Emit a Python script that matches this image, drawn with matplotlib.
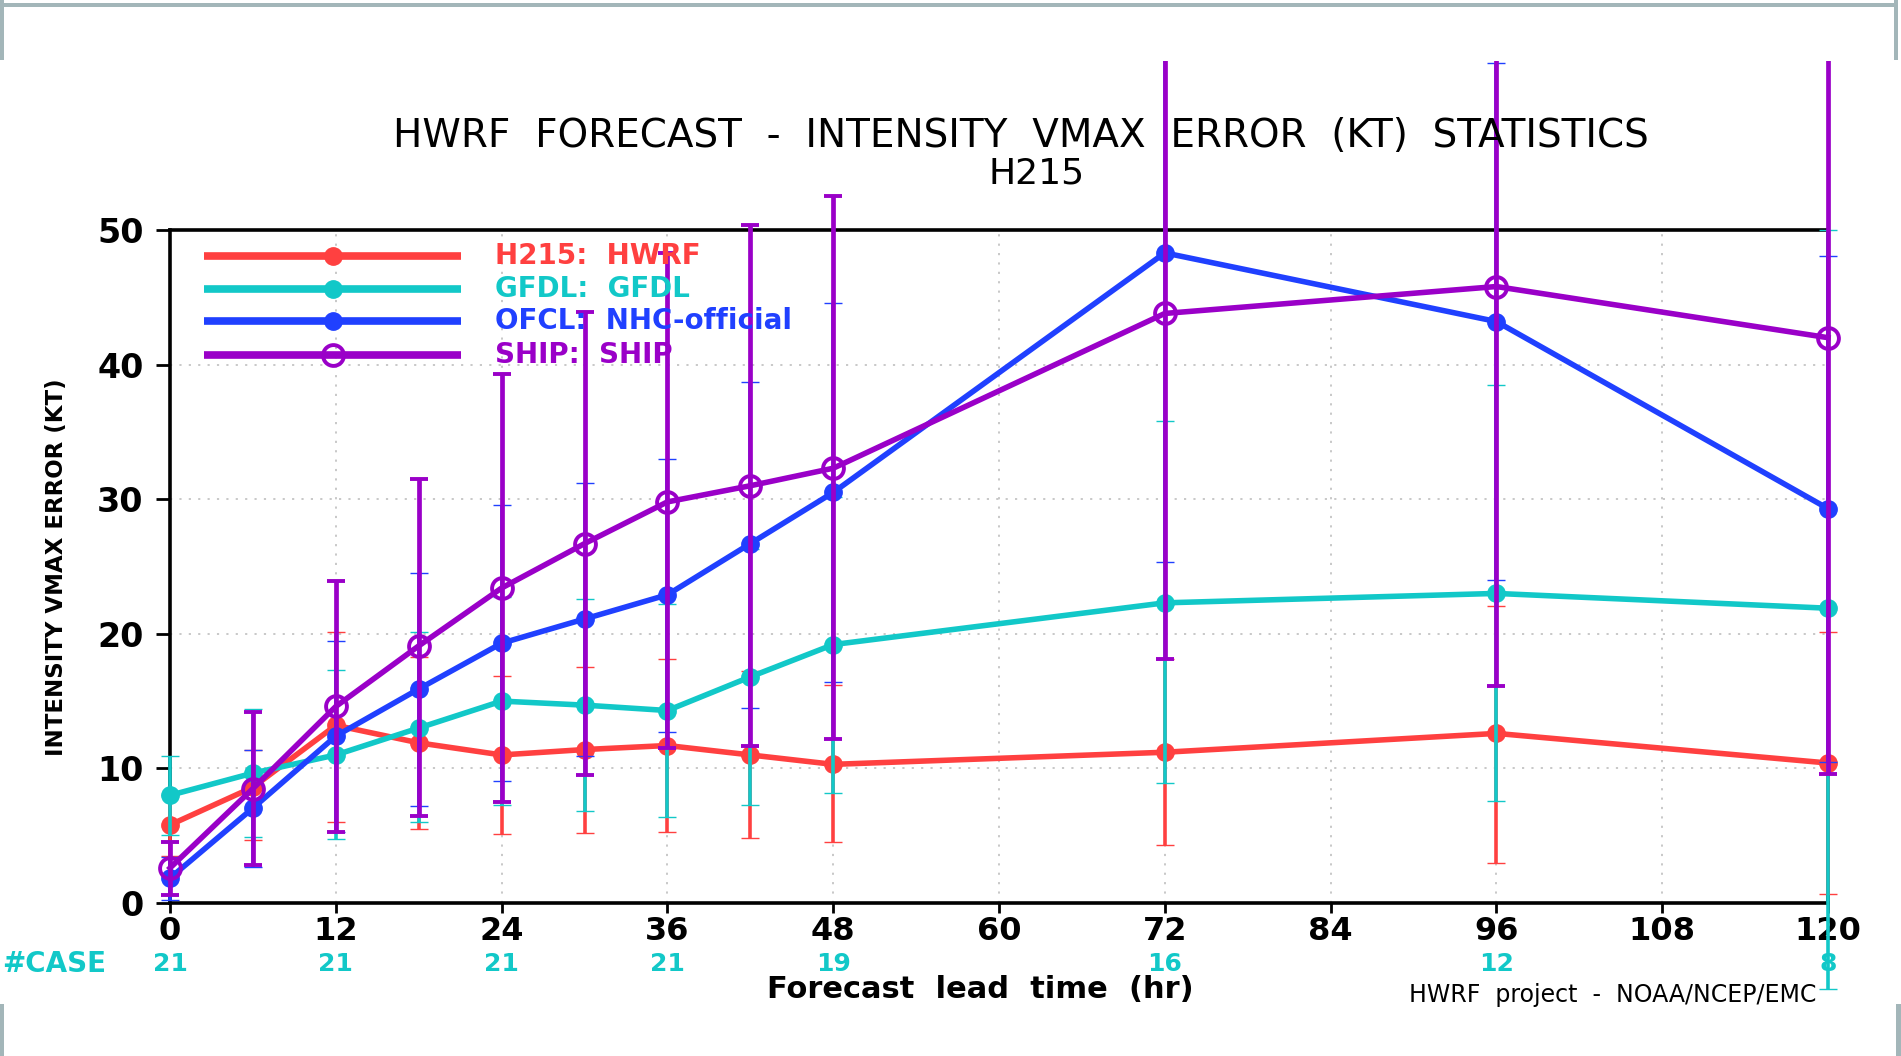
import numpy as np
import matplotlib.pyplot as plt
from matplotlib.transforms import Bbox, TransformedBbox
from matplotlib.patches import Rectangle

# forecast lead times (hr)
lead = [0, 6, 12, 18, 24, 30, 36, 42, 48, 72, 96, 120]

# mean error and error-bar ends
hwrf = [5.8, 8.6, 13.2, 11.9, 11.0, 11.4, 11.7, 11.0, 10.3, 11.2, 12.6, 10.4]
hwrf_lo = [3.5, 4.65, 6.0, 5.5, 5.1, 5.2, 5.3, 4.8, 4.5, 4.3, 2.95, 0.7]
hwrf_hi = [8.0, 11.4, 20.1, 18.3, 16.9, 17.5, 18.1, 17.2, 16.2, 18.15, 22.1, 20.1]

gfdl = [8.0, 9.65, 11.0, 13.0, 15.0, 14.7, 14.3, 16.8, 19.2, 22.3, 23.0, 21.9]
gfdl_lo = [5.05, 4.9, 4.75, 6.0, 7.3, 6.8, 6.4, 7.3, 8.2, 8.9, 7.6, -6.4]
gfdl_hi = [10.9, 14.4, 17.3, 20.1, 22.7, 22.6, 22.2, 26.3, 30.2, 35.8, 38.5, 50.0]

ofcl = [1.85, 7.05, 12.4, 15.9, 19.3, 21.1, 22.9, 26.7, 30.5, 48.3, 43.2, 29.3]
ofcl_lo = [0.2, 2.7, 5.3, 7.2, 9.1, 10.9, 12.7, 14.5, 16.4, 25.3, 24.0, 10.5]
ofcl_hi = [3.45, 11.4, 19.5, 24.5, 29.6, 31.2, 33.0, 38.7, 44.6, 71.3, 62.4, 48.1]

ship = [2.6, 8.5, 14.6, 19.1, 23.4, 26.7, 29.8, 31.0, 32.3, 43.8, 45.8, 42.0]
ship_lo = [0.6, 2.8, 5.3, 6.5, 7.5, 9.5, 11.55, 11.7, 12.2, 18.15, 16.1, 9.6]
ship_hi = [4.5, 14.2, 23.9, 31.5, 39.3, 43.9, 48.3, 50.4, 52.5, 69.5, 75.5, 74.4]

case_hours = [0, 12, 24, 36, 48, 72, 96, 120]
case_counts = [21, 21, 21, 21, 19, 16, 12, 8]

labels = ["H215:  HWRF", "GFDL:  GFDL", "OFCL:  NHC-official", "SHIP:  SHIP"]
colors = ["#ff4040", "#12c8c8", "#2040ff", "#9a00c8"]

W, H = 1901, 1056
fig = plt.figure(figsize=(W / 100, H / 100), dpi=100)
ax = fig.add_axes([170 / W, 1 - 903 / H, 1658 / W, 673 / H])

# bars run past the top of the frame and get cut near the page top
clip = TransformedBbox(Bbox.from_extents(0, 0, 1, 1 - 61 / H), fig.transFigure)

series = [(hwrf, hwrf_lo, hwrf_hi), (gfdl, gfdl_lo, gfdl_hi),
          (ofcl, ofcl_lo, ofcl_hi), (ship, ship_lo, ship_hi)]

for i, (mean, lo, hi) in enumerate(series):
    mean = np.array(mean)
    err = [mean - np.array(lo), np.array(hi) - mean]
    col = colors[i]
    if i == 3:
        mk = dict(marker="o", ms=15, mfc="none", mec=col, mew=2.8)
        elw = 3.4
    else:
        mk = dict(marker="o", ms=12.5, mfc=col, mec=col, mew=1)
        elw = 2.6
    cont = ax.errorbar(lead, mean, yerr=err, color=col, lw=4,
                       elinewidth=elw, capsize=6.5, capthick=2.6,
                       zorder=3 + i, **mk)
    line, caps, bars = cont.lines
    for a in [line, *caps, *bars]:
        a.set_clip_box(clip)

ax.set_xlim(0, 120)
ax.set_ylim(0, 50)
ax.set_xticks(range(0, 121, 12))
ax.set_yticks(range(0, 51, 10))
ax.grid(True, color="#c4c4c4", linestyle=(0, (1.2, 4)), linewidth=1.3)
ax.set_axisbelow(True)
for s in ax.spines.values():
    s.set_linewidth(2.6)
    s.set_zorder(2.5)
ax.tick_params(axis="y", direction="out", length=10, width=2, pad=9, labelsize=24)
ax.tick_params(axis="x", direction="out", length=7, width=2, pad=2, labelsize=23)
for lbl in ax.get_xticklabels() + ax.get_yticklabels():
    lbl.set_fontweight("bold")

# legend drawn by hand, GrADS style
rows = [0.9614, 0.9123, 0.8648, 0.8143]
for i, y in enumerate(rows):
    col = colors[i]
    ax.plot([0.0205, 0.1755], [y, y], transform=ax.transAxes, color=col,
            lw=5.5, clip_on=False, zorder=8, solid_capstyle="butt")
    if i == 3:
        ax.plot([0.0983], [y], transform=ax.transAxes, marker="o", ms=15,
                mfc="none", mec=col, mew=2.8, clip_on=False, zorder=8)
    else:
        ax.plot([0.0983], [y], transform=ax.transAxes, marker="o", ms=12.5,
                color=col, clip_on=False, zorder=8)
    ax.text(0.196, y, labels[i], transform=ax.transAxes, color=col,
            fontsize=20, fontweight="bold", va="center", ha="left", zorder=9)

# case counts under the x axis
ycase = (903 - 964) / 673
for h, n in zip(case_hours, case_counts):
    ax.text(h, ycase, str(n), transform=ax.get_xaxis_transform(), ha="center",
            va="center", color="#12c8c8", fontsize=18, fontweight="bold")
fig.text(2 / W, 1 - 964 / H, "#CASE", ha="left", va="center", color="#12c8c8",
         fontsize=20, fontweight="bold")

fig.text(1021 / W, 1 - 136 / H,
         "HWRF  FORECAST  -  INTENSITY  VMAX  ERROR  (KT)  STATISTICS",
         ha="center", va="center", fontsize=28)
fig.text(1037 / W, 1 - 174 / H, "H215", ha="center", va="center", fontsize=26)
fig.text(57 / W, 1 - 567 / H, "INTENSITY VMAX ERROR (KT)", rotation=90,
         ha="center", va="center", fontsize=16.5, fontweight="bold")
fig.text(980 / W, 1 - 990 / H, "Forecast  lead  time  (hr)", ha="center",
         va="center", fontsize=22, fontweight="bold")
fig.text(1409 / W, 1 - 995 / H, "HWRF  project  -  NOAA/NCEP/EMC", ha="left",
         va="center", fontsize=17)

# slide frame remnants
frame = "#a3b6b9"
for x0, y0, w, h in [(0, 3, 1898, 4), (0, 0, 4, 60), (1894, 0, 4, 60),
                     (0, 1004, 4, 52), (1896, 1004, 5, 52)]:
    fig.add_artist(Rectangle((x0 / W, 1 - (y0 + h) / H), w / W, h / H,
                             transform=fig.transFigure, color=frame, lw=0))

plt.savefig("out.png", dpi=100)
